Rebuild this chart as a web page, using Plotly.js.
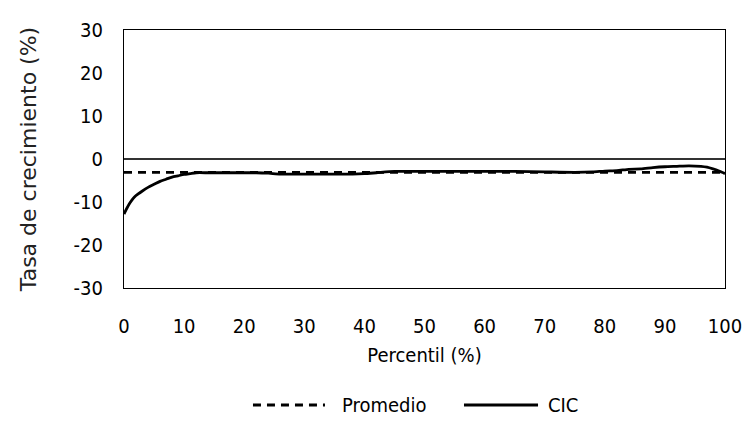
<!DOCTYPE html>
<html>
<head>
<meta charset="utf-8">
<script src="https://cdn.plot.ly/plotly-3.0.1.min.js"></script>
<style>
  html, body { margin: 0; padding: 0; background: #fff; }
  #chart { width: 745px; height: 436px; }
</style>
</head>
<body>
<div id="chart"></div>
<script>
// Growth incidence curve by percentile
const percentiles = [0, 0.5, 1, 1.5, 2, 3, 4, 5, 6, 7, 8, 9, 10, 11, 12, 14, 16, 18, 20, 22, 24, 26, 30, 35, 38, 40, 42, 45, 50, 55, 60, 65, 70, 75, 78, 80, 82, 84, 86, 88, 90, 92, 94, 96, 97, 98, 99, 100];
const cic = [-12.8, -11.4, -10.2, -9.2, -8.5, -7.5, -6.6, -5.9, -5.2, -4.7, -4.2, -3.9, -3.6, -3.4, -3.2, -3.2, -3.2, -3.2, -3.2, -3.2, -3.3, -3.5, -3.5, -3.5, -3.5, -3.4, -3.2, -2.9, -2.9, -2.9, -2.9, -2.9, -3.0, -3.1, -3.0, -2.8, -2.7, -2.4, -2.3, -2.0, -1.8, -1.7, -1.6, -1.7, -1.9, -2.3, -2.8, -3.4];
const promedio = -3.1;
const promedioX = [0, 100];
const promedioY = [promedio, promedio];

const xTicks = [0, 10, 20, 30, 40, 50, 60, 70, 80, 90, 100];
const yTicks = [-30, -20, -10, 0, 10, 20, 30];

const legendNames = ['Promedio', 'CIC'];

const narrow = '"DejaVu Sans Condensed", "DejaVu Sans", sans-serif';
const black = '#000';

const traces = [
  {
    x: promedioX, y: promedioY, name: legendNames[0], mode: 'lines',
    line: { color: black, width: 2.8, dash: '8px,6px' }
  },
  {
    x: percentiles, y: cic, name: legendNames[1], mode: 'lines',
    line: { color: black, width: 2.8, shape: 'spline', smoothing: 0.6 }
  }
];

// Legend drawn below the plot with long line samples
const legendY = -0.4535;
const shapes = [
  { type: 'line', xref: 'paper', yref: 'paper', x0: 0.2146, x1: 0.3344, y0: legendY, y1: legendY,
    line: { color: black, width: 2.8, dash: '8px,6px' } },
  { type: 'line', xref: 'paper', yref: 'paper', x0: 0.5657, x1: 0.6889, y0: legendY, y1: legendY,
    line: { color: black, width: 2.8 } }
];
const annotations = [
  { xref: 'paper', yref: 'paper', x: 0.3594, y: legendY, xanchor: 'left', yanchor: 'middle',
    text: legendNames[0], showarrow: false, font: { family: narrow, size: 20, color: black } },
  { xref: 'paper', yref: 'paper', x: 0.7022, y: legendY, xanchor: 'left', yanchor: 'middle',
    text: legendNames[1], showarrow: false, font: { family: narrow, size: 20, color: black } }
];

const layout = {
  width: 745, height: 436,
  margin: { l: 124, r: 20, t: 30, b: 148 },
  paper_bgcolor: '#fff', plot_bgcolor: '#fff',
  font: { family: narrow, size: 20, color: black },
  showlegend: false,
  shapes: shapes,
  annotations: annotations,
  xaxis: {
    range: [0, 100], tickvals: xTicks, ticktext: xTicks.map(String),
    showgrid: false, zeroline: false, showline: true, mirror: true,
    linecolor: black, linewidth: 1, ticks: '', ticklabelstandoff: 20,
    tickfont: { family: narrow, size: 20, color: black },
    title: { text: 'Percentil (%)', font: { family: narrow, size: 20, color: black }, standoff: 10 }
  },
  yaxis: {
    range: [-30, 30], tickvals: yTicks, ticktext: yTicks.map(String),
    showgrid: false, zeroline: true, zerolinecolor: '#333', zerolinewidth: 1.5,
    showline: true, mirror: true, linecolor: black, linewidth: 1, ticks: '',
    ticklabelstandoff: 16,
    tickfont: { family: narrow, size: 20, color: black },
    title: { text: 'Tasa de crecimiento (%)', font: { family: 'DejaVu Sans, sans-serif', size: 22, color: '#222' }, standoff: 30 }
  }
};

Plotly.newPlot('chart', traces, layout, { displayModeBar: false, staticPlot: true });
</script>
</body>
</html>
